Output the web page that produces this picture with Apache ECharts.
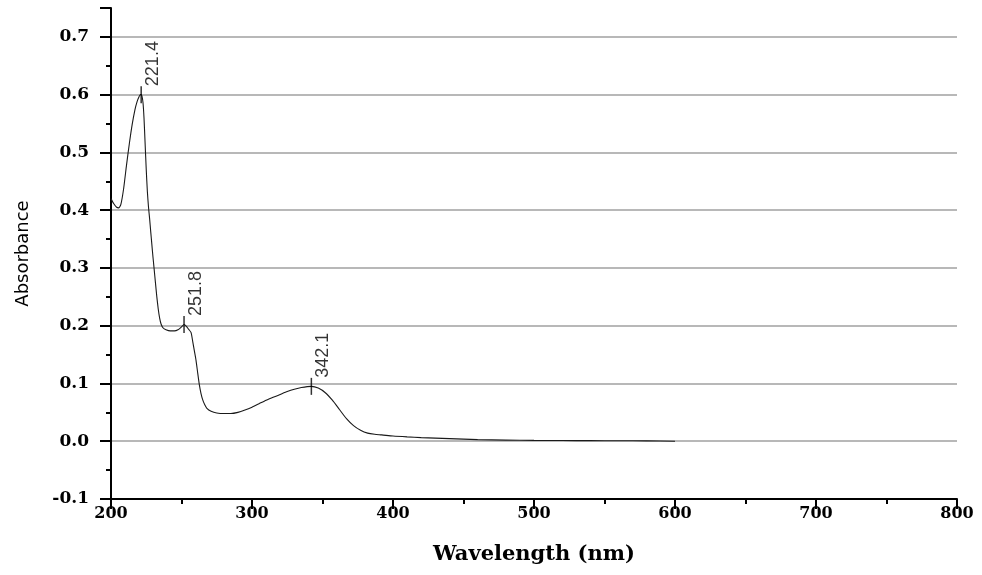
<!DOCTYPE html>
<html>
<head>
<meta charset="utf-8">
<script src="https://cdn.jsdelivr.net/npm/echarts@6/dist/echarts.min.js"></script>
<style>html,body{margin:0;padding:0;background:#fff;}#c{width:982px;height:575px;}</style>
</head>
<body>
<div id="c"></div>
<script>
// Wavelength (nm)
var wavelength = [200, 202, 204, 205.5, 207, 209, 211, 213, 215, 217, 218.5, 219.8, 220.8, 221.4, 222, 222.7, 223.4, 224.2, 225, 225.8, 226.6, 227.4, 228.2, 229, 229.8, 230.6, 231.5, 232.5, 233.5, 234.5, 235.5, 237, 239, 242, 245, 247.5, 250, 251.8, 253.5, 255, 256.8, 258, 259, 260.3, 261.5, 262.7, 263.8, 265, 266.5, 268, 271, 275, 280, 285, 290, 295, 300, 305, 310, 315, 320, 325, 330, 335, 342.1, 347, 352, 357, 362, 367, 372, 377, 382, 387, 392, 400, 410, 420, 440, 460, 480, 500, 520, 540, 560, 580, 600];
// Absorbance
var absorbance = [0.420, 0.411, 0.405, 0.404, 0.410, 0.438, 0.478, 0.515, 0.548, 0.574, 0.588, 0.596, 0.600, 0.600, 0.597, 0.586, 0.560, 0.515, 0.470, 0.432, 0.405, 0.385, 0.362, 0.340, 0.318, 0.298, 0.275, 0.250, 0.229, 0.213, 0.203, 0.196, 0.193, 0.191, 0.191, 0.193, 0.198, 0.202, 0.199, 0.194, 0.188, 0.172, 0.158, 0.140, 0.118, 0.097, 0.083, 0.072, 0.063, 0.057, 0.052, 0.049, 0.048, 0.048, 0.050, 0.054, 0.059, 0.065, 0.071, 0.076, 0.081, 0.086, 0.090, 0.093, 0.095, 0.092, 0.084, 0.071, 0.055, 0.039, 0.027, 0.019, 0.014, 0.012, 0.011, 0.009, 0.0075, 0.0063, 0.0045, 0.0028, 0.002, 0.0015, 0.0012, 0.001, 0.0009, 0.0006, 0.0];
// Peak markers
var peakWavelength = [221.4, 251.8, 342.1];
var peakAbsorbance = [0.600, 0.202, 0.095];
var peakLabels = ['221.4', '251.8', '342.1'];
// Axis ticks
var xTicks = [200, 300, 400, 500, 600, 700, 800];
var yTicks = [-0.1, 0.0, 0.1, 0.2, 0.3, 0.4, 0.5, 0.6, 0.7];

var curve = wavelength.map(function (w, i) { return [w, absorbance[i]]; });
var peaks = peakWavelength.map(function (w, i) { return { name: peakLabels[i], value: [w, peakAbsorbance[i]] }; });

var chart = echarts.init(document.getElementById('c'), null, { renderer: 'canvas' });
chart.setOption({
  animation: false,
  backgroundColor: '#ffffff',
  grid: { left: 111, right: 25, top: 8, bottom: 76 },
  xAxis: {
    type: 'value', min: 200, max: 800, interval: 100,
    name: 'Wavelength (nm)', nameLocation: 'middle', nameGap: 45,
    nameTextStyle: { fontFamily: 'DejaVu Serif', fontWeight: 'bold', fontSize: 21, color: '#000' },
    axisLine: { show: true, onZero: false, lineStyle: { color: '#000', width: 2 } },
    axisTick: { show: true, length: 10, lineStyle: { color: '#000', width: 2 } },
    minorTick: { show: true, splitNumber: 2, length: 5, lineStyle: { color: '#000', width: 2 } },
    axisLabel: { margin: 7, fontFamily: 'DejaVu Serif', fontWeight: 'bold', fontSize: 16, color: '#000',
      customValues: xTicks },
    splitLine: { show: false }
  },
  yAxis: {
    type: 'value', min: -0.1, max: 0.75, interval: 0.1,
    name: 'Absorbance', nameLocation: 'middle', nameGap: 79,
    nameTextStyle: { fontFamily: 'DejaVu Sans', fontSize: 18, color: '#000' },
    axisLine: { show: true, onZero: false, lineStyle: { color: '#000', width: 2 } },
    axisTick: { show: true, length: 11, lineStyle: { color: '#000', width: 2 } },
    minorTick: { show: true, splitNumber: 2, length: 5, lineStyle: { color: '#000', width: 2 } },
    axisLabel: { margin: 22, fontFamily: 'DejaVu Serif', fontWeight: 'bold', fontSize: 17, color: '#000',
      customValues: yTicks, formatter: function (v) { return v.toFixed(1); } },
    splitLine: { show: true, showMinLine: false, showMaxLine: false, lineStyle: { color: '#a0a0a0', width: 1.5 } }
  },
  series: [{
    type: 'line', data: curve,
    showSymbol: false, smooth: 0.2, silent: true,
    lineStyle: { color: '#1a1a1a', width: 1.1 }
  }, {
    type: 'scatter', data: peaks,
    symbol: 'rect', symbolSize: [1.5, 17], silent: true, z: 5,
    itemStyle: { color: '#000' },
    label: {
      show: true, formatter: '{b}', rotate: 90, position: [3.5, 0],
      align: 'left', verticalAlign: 'top',
      fontFamily: 'Liberation Sans', fontSize: 18, color: '#000'
    }
  }]
});
</script>
</body>
</html>
